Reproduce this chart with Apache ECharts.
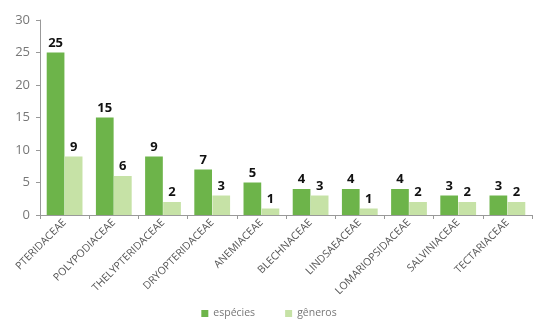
<!DOCTYPE html>
<html><head><meta charset="utf-8">
<script src="https://cdn.jsdelivr.net/npm/echarts@6/dist/echarts.min.js"></script>
<style>html,body{margin:0;padding:0;background:#fff}#c{width:538px;height:326px}</style>
</head><body><div id="c"></div>
<script>
const categories = ["PTERIDACEAE","POLYPODIACEAE","THELYPTERIDACEAE","DRYOPTERIDACEAE","ANEMIACEAE","BLECHNACEAE","LINDSAEACEAE","LOMARIOPSIDACEAE","SALVINIACEAE","TECTARIACEAE"];
const especies = [25,15,9,7,5,4,4,4,3,3];
const generos = [9,6,2,3,1,3,1,2,2,2];
const yTicks = {min:0, max:30, interval:5};
const chart = echarts.init(document.getElementById('c'));
const lbl = {show:true, position:'top', color:'#111', fontWeight:'bold', fontSize:13, fontFamily:'Open Sans', distance:3};
chart.setOption({
  animation:false,
  grid:{left:40, right:6, top:20, bottom:111},
  legend:{bottom:2, left:'center', itemWidth:7, itemHeight:7, itemGap:30, icon:'rect',
    textStyle:{color:'#777', fontSize:10.5, fontFamily:'Open Sans'},
    data:['espécies','gêneros']},
  xAxis:{type:'category', data:categories,
    axisLine:{lineStyle:{color:'#999'}}, axisTick:{show:true, lineStyle:{color:'#999'}, length:4},
    axisLabel:{rotate:45, color:'#555', fontSize:10.5, fontFamily:'Open Sans', interval:0, margin:6}},
  yAxis:{type:'value', min:yTicks.min, max:yTicks.max, interval:yTicks.interval,
    splitLine:{show:false}, axisLine:{show:true, lineStyle:{color:'#999'}},
    axisTick:{show:true, length:4, lineStyle:{color:'#999'}},
    axisLabel:{color:'#777', fontSize:13, fontFamily:'Open Sans', margin:10}},
  series:[
    {name:'espécies', type:'bar', data:especies, barWidth:'36%', barGap:'2%',
     itemStyle:{color:'#6db44a'}, label:lbl},
    {name:'gêneros', type:'bar', data:generos, barWidth:'36%',
     itemStyle:{color:'#c6e2a6'}, label:lbl}
  ]
});
</script></body></html>
